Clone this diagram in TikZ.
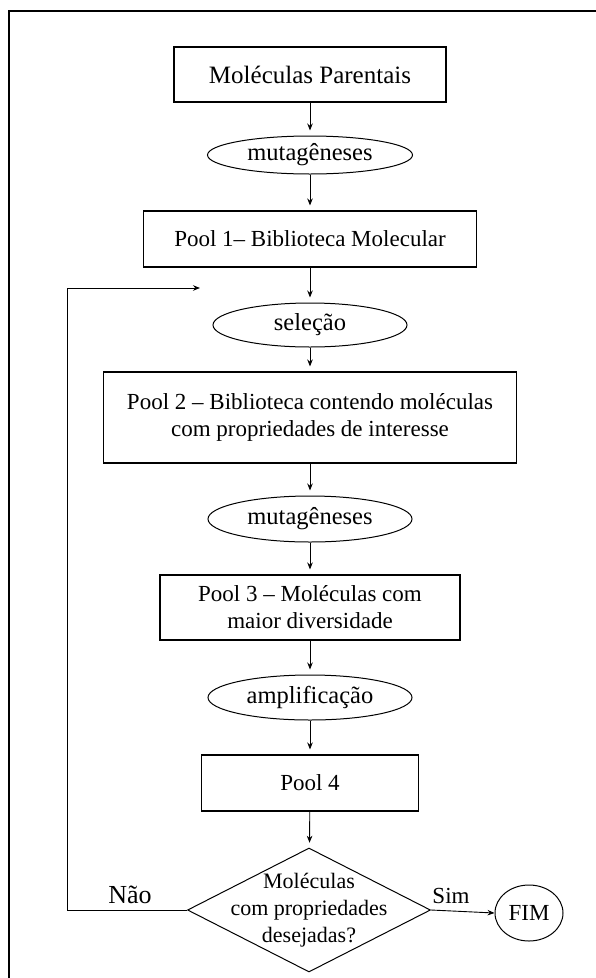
\documentclass[tikz,border=0pt]{standalone}
\usepackage{fontspec}
\setmainfont{Liberation Serif}
\usetikzlibrary{shapes.geometric,arrows.meta}
\begin{document}
\begin{tikzpicture}[x=1pt,y=-1pt,
  txt/.style={font=\fontsize{23}{27}\selectfont},
  stepbox/.style={draw,line width=1.1pt,rectangle,align=center,inner sep=0pt,txt},
  oval/.style={draw,ellipse,line width=1pt,inner sep=0pt,txt},
  flow/.style={-{Stealth[length=7pt,width=5.5pt]},line width=0.9pt},
  gap/.style={shorten >=5pt}
]
\useasboundingbox (0,0) rectangle (595,978);
% page frame
\draw[line width=2pt] (9,990) -- (9,11) -- (600,11);

% main column
\node[stepbox,minimum width=272pt,minimum height=55pt,font=\fontsize{25}{29}\selectfont] (parent) at (310,74.5) {Moléculas Parentais};
\node[oval,minimum width=205pt,minimum height=38pt,font=\fontsize{24.5}{28}\selectfont] (mut1) at (310,155) {mutagêneses};
\node[stepbox,minimum width=333pt,minimum height=56pt] (pool1) at (310,239) {Pool 1– Biblioteca Molecular};
\node[oval,minimum width=194pt,minimum height=44pt,font=\fontsize{24.5}{28}\selectfont] (sel) at (310,325) {seleção};
\node[stepbox,minimum width=413pt,minimum height=91pt] (pool2) at (310,417.5) {Pool 2 – Biblioteca contendo moléculas\\com propriedades de interesse};
\node[oval,minimum width=204pt,minimum height=46pt,font=\fontsize{24.5}{28}\selectfont] (mut2) at (310,519) {mutagêneses};
\node[stepbox,minimum width=300pt,minimum height=65pt] (pool3) at (310,607.5) {Pool 3 – Moléculas com\\maior diversidade};
\node[oval,minimum width=204pt,minimum height=45pt,font=\fontsize{24.5}{28}\selectfont] (amp) at (310,697.5) {amplificação};
\node[stepbox,minimum width=217pt,minimum height=56pt] (pool4) at (310,783) {Pool 4};
\node[draw,diamond,line width=1pt,minimum width=243pt,minimum height=124pt,inner sep=0pt] (dec) at (309,910) {};
\node[align=center,font=\fontsize{22}{27}\selectfont] (dectext) at (dec.center) {Moléculas\\com propriedades\\desejadas?};
\node[draw,ellipse,line width=1pt,minimum width=68pt,minimum height=56pt,inner sep=0pt,txt] (fim) at (529,913) {FIM};

% arrows down the column
\draw[flow,gap] (parent) -- (mut1);
\draw[flow,gap] (mut1) -- (pool1);
\draw[flow,gap] (pool1) -- (sel);
\draw[flow,gap] (sel) -- (pool2);
\draw[flow,gap] (pool2) -- (mut2);
\draw[flow,gap] (mut2) -- (pool3);
\draw[flow,gap] (pool3) -- (amp);
\draw[flow,gap] (amp) -- (pool4);
\draw[flow,gap] (pool4) -- (dec);

% decision outcomes
\coordinate (back) at (200,288);
\draw[flow] (dec.west) -- ++(-120,0) |- (back);
\draw[flow] (dec.east) -- (fim.west);
\node[font=\fontsize{26}{30}\selectfont,anchor=base] (nao) at (130,903) {Não};
\node[txt,anchor=base] (sim) at (451,903) {Sim};
\end{tikzpicture}
\end{document}
